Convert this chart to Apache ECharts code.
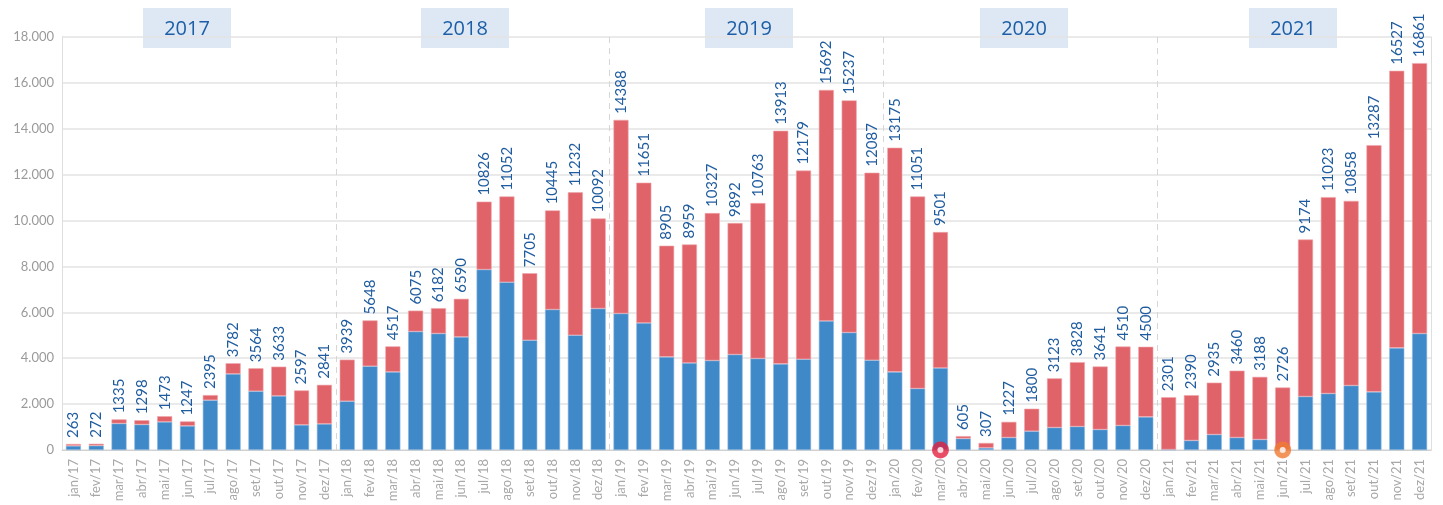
<!DOCTYPE html>
<html>
<head>
<meta charset="utf-8">
<script src="https://cdn.jsdelivr.net/npm/echarts@6/dist/echarts.min.js"></script>
<style>
html,body{margin:0;padding:0;background:#fff;}
#chart{width:1443px;height:505px;}
</style>
</head>
<body>
<div id="chart"></div>
<script>
var months = ['jan','fev','mar','abr','mai','jun','jul','ago','set','out','nov','dez'];
var years = ['17','18','19','20','21'];
var categories = [];
years.forEach(function(y){ months.forEach(function(m){ categories.push(m + '/' + y); }); });

var yearLabels = ['2017','2018','2019','2020','2021'];

var totals = [
  263, 272, 1335, 1298, 1473, 1247, 2395, 3782, 3564, 3633, 2597, 2841,
  3939, 5648, 4517, 6075, 6182, 6590, 10826, 11052, 7705, 10445, 11232, 10092,
  14388, 11651, 8905, 8959, 10327, 9892, 10763, 13913, 12179, 15692, 15237, 12087,
  13175, 11051, 9501, 605, 307, 1227, 1800, 3123, 3828, 3641, 4510, 4500,
  2301, 2390, 2935, 3460, 3188, 2726, 9174, 11023, 10858, 13287, 16527, 16861
];

var blueValues = [
  180, 190, 1155, 1110, 1225, 1050, 2170, 3316, 2562, 2357, 1094, 1137,
  2126, 3651, 3403, 5163, 5076, 4928, 7865, 7312, 4784, 6122, 5002, 6166,
  5948, 5538, 4057, 3795, 3900, 4161, 3987, 3752, 3956, 5625, 5120, 3913,
  3403, 2680, 3577, 500, 92, 545, 819, 980, 1024, 893, 1068, 1442,
  20, 414, 675, 545, 458, 0, 2331, 2462, 2810, 2532, 4449, 5076
];

var redValues = totals.map(function(t, i){ return t - blueValues[i]; });

var redMarkerCats = ['mar/20'];
var orangeMarkerCats = ['jun/21'];

var yTicks = { min: 0, max: 18000, interval: 2000 };

function markerData(cats){
  return categories.map(function(c){ return cats.indexOf(c) >= 0 ? 0 : '-'; });
}

var chart = echarts.init(document.getElementById('chart'), null, {renderer:'canvas'});

var boxLefts = [143, 421, 705, 980, 1249];
var graphics = [];
yearLabels.forEach(function(y, i){
  graphics.push({
    type: 'group', left: boxLefts[i], top: 8, z: 100,
    children: [
      { type: 'rect', shape: { x: 0, y: 0, width: 88, height: 40 }, style: { fill: '#dde8f4' } },
      { type: 'text', style: { text: y, x: 44, y: 21, textAlign: 'center', textVerticalAlign: 'middle',
        fill: '#1d5ea6', font: '500 20px "Open Sans", sans-serif' } }
    ]
  });
});

chart.setOption({
  animation: false,
  grid: { left: 62, right: 12, top: 37, bottom: 55, containLabel: false },
  graphic: graphics,
  xAxis: {
    type: 'category',
    data: categories,
    axisLine: { show: true, lineStyle: { color: '#d0d0d0', width: 1 } },
    axisTick: { show: false },
    axisLabel: { rotate: 90, interval: 0, color: '#a8a8a8', fontSize: 13, fontFamily: 'Lato, sans-serif', margin: 9 },
    splitLine: {
      show: true,
      interval: function(index){ return index > 0 && index % 12 === 0; },
      lineStyle: { color: '#d6d6d6', type: [6, 5], width: 1 }
    }
  },
  yAxis: [{
    type: 'value',
    min: yTicks.min, max: yTicks.max, interval: yTicks.interval,
    axisLine: { show: true, lineStyle: { color: '#dedede' } },
    axisTick: { show: false },
    axisLabel: { color: '#9a9a9a', fontSize: 13, fontFamily: 'Lato, sans-serif', margin: 8,
      formatter: function(v){ return v === 0 ? '0' : (v/1000).toFixed(3); } },
    splitLine: { lineStyle: { color: '#e3e3e3', width: 1.5 } }
  }, {
    type: 'value', position: 'right',
    min: yTicks.min, max: yTicks.max, interval: yTicks.interval,
    axisLine: { show: true, lineStyle: { color: '#dedede' } },
    axisTick: { show: false }, axisLabel: { show: false }, splitLine: { show: false }
  }],
  series: [
    {
      name: 'blue', type: 'bar', stack: 'total', data: blueValues,
      barCategoryGap: '34%',
      itemStyle: { color: '#3f89c9', borderColor: '#8fb8e0', borderWidth: 0.6 }
    },
    {
      name: 'red', type: 'bar', stack: 'total', data: redValues,
      barCategoryGap: '34%',
      itemStyle: { color: '#e0636a', borderColor: '#f0a8ac', borderWidth: 0.6 },
      label: {
        show: true, position: 'top', rotate: 90, align: 'left', verticalAlign: 'middle', distance: 6,
        color: '#1f5c9f', fontSize: 15, fontFamily: 'Lato, sans-serif',
        formatter: function(p){ return String(totals[p.dataIndex]); }
      }
    },
    {
      type: 'scatter', data: markerData(redMarkerCats), symbol: 'circle', symbolSize: 17,
      itemStyle: { color: '#e2213f' }, z: 10
    },
    {
      type: 'scatter', data: markerData(orangeMarkerCats), symbol: 'circle', symbolSize: 17,
      itemStyle: { color: '#f07a32' }, z: 10
    },
    {
      type: 'scatter', data: markerData(redMarkerCats.concat(orangeMarkerCats)), symbol: 'circle', symbolSize: 6,
      itemStyle: { color: '#ffffff' }, z: 11
    }
  ]
});
</script>
</body>
</html>
